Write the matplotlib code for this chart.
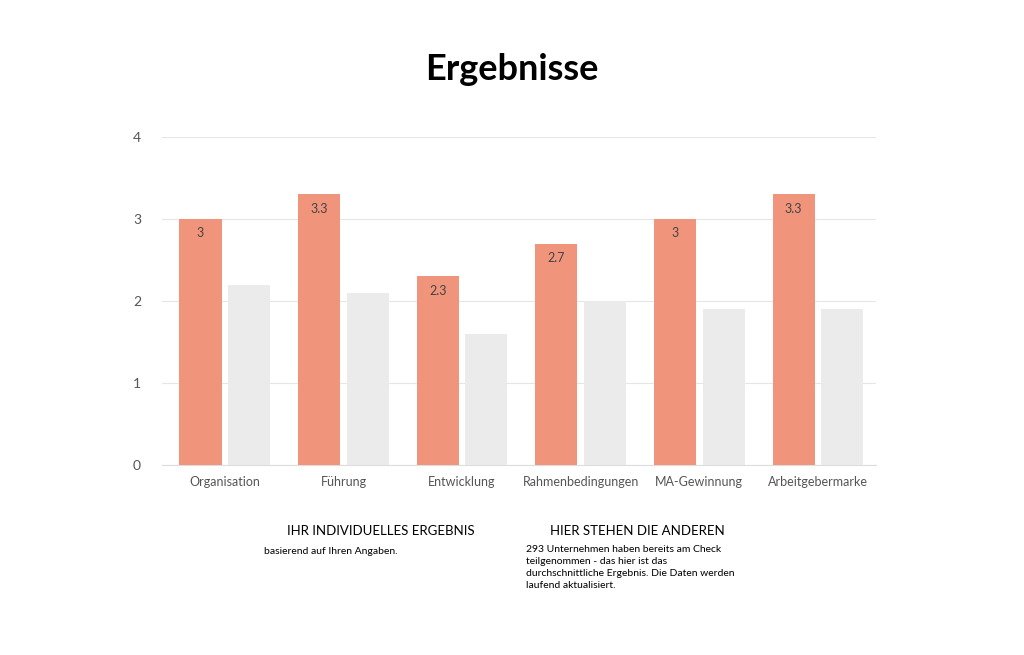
import matplotlib
matplotlib.use("Agg")
import matplotlib.pyplot as plt
import numpy as np

# DATA
categories = ["Organisation", "Führung", "Entwicklung", "Rahmenbedingungen", "MA-Gewinnung", "Arbeitgebermarke"]
own_scores = [3, 3.3, 2.3, 2.7, 3, 3.3]
own_labels = ["3", "3.3", "2.3", "2.7", "3", "3.3"]
other_scores = [2.2, 2.1, 1.6, 2.0, 1.9, 1.9]
y_ticks = [0, 1, 2, 3, 4]

plt.rcParams['font.family'] = ['Lato', 'DejaVu Sans']

fig = plt.figure(figsize=(10.24, 6.55), dpi=100)
ax = fig.add_axes([162 / 1024, 190 / 655, 714 / 1024, 328 / 655])

x = np.arange(len(categories))
w = 0.355
ax.bar(x - 0.205, own_scores, w, color="#F0957B", zorder=3)
ax.bar(x + 0.205, other_scores, w, color="#EBEBEB", zorder=3)
for xi, v, lab in zip(x, own_scores, own_labels):
    ax.text(xi - 0.205, v - 0.1, lab, ha="center", va="top", fontsize=9, color="#444444", zorder=4)

ax.set_xlim(-0.53, 5.49)
ax.set_ylim(0, 4)
ax.set_yticks(y_ticks)
ax.set_xticks(x)
ax.set_xticklabels(categories, fontsize=9, color="#555555")
ax.tick_params(axis="y", labelsize=10, labelcolor="#555555", length=0, pad=8)
ax.tick_params(axis="x", length=0, pad=8)
ax.grid(axis="y", color="#E6E6E6", linewidth=0.8, zorder=0)
for s in ["top", "right", "left"]:
    ax.spines[s].set_visible(False)
ax.spines["bottom"].set_color("#DDDDDD")
for lab in ax.get_yticklabels():
    lab.set_horizontalalignment("left")
    lab.set_x(-0.025)

fig.text(0.5, 1 - 70 / 655, "Ergebnisse", ha="center", va="center", fontsize=26, fontweight="bold")
fig.text(381 / 1024, 1 - 531 / 655, "IHR INDIVIDUELLES ERGEBNIS", ha="center", va="center", fontsize=9.5)
fig.text(264 / 1024, 1 - 551 / 655, "basierend auf Ihren Angaben.", ha="left", va="center", fontsize=7.5)
fig.text(637 / 1024, 1 - 531 / 655, "HIER STEHEN DIE ANDEREN", ha="center", va="center", fontsize=9.5)
fig.text(526 / 1024, 1 - 545 / 655,
         "293 Unternehmen haben bereits am Check\nteilgenommen - das hier ist das\n"
         "durchschnittliche Ergebnis. Die Daten werden\nlaufend aktualisiert.",
         ha="left", va="top", fontsize=7.5, linespacing=1.45)

fig.savefig("out.png", dpi=100)
